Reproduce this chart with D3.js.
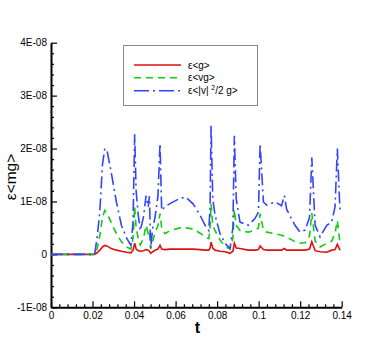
<!DOCTYPE html>
<html>
<head>
<meta charset="utf-8">
<script src="https://cdn.jsdelivr.net/npm/d3@7"></script>
<style>
    body { margin: 0; background: #fff; }
    svg { display: block; font-family: Arial, "Liberation Sans", Helvetica, sans-serif; }
</style>
</head>
<body>
<div id="chart"></div>
<script>
// Time samples, shared by all three series.
var times = [0, 0.021, 0.0222, 0.0235, 0.0248, 0.0259, 0.0270, 0.0290, 0.0315, 0.0339,
    0.0365, 0.0385, 0.0395, 0.0403, 0.0410, 0.0420, 0.0430, 0.0445, 0.0458, 0.0468,
    0.0474, 0.0480, 0.0490, 0.0501, 0.0515, 0.0525, 0.0533, 0.0549, 0.0573, 0.0621,
    0.0650, 0.0685, 0.0718, 0.0742, 0.0760, 0.0766, 0.0771, 0.0779, 0.0790, 0.0814,
    0.0838, 0.0862, 0.0876, 0.0883, 0.0892, 0.0910, 0.0950, 0.0983, 0.0999, 0.1007,
    0.1023, 0.1039, 0.1079, 0.1110, 0.1124, 0.1135, 0.1175, 0.1199, 0.1224, 0.1245,
    0.1256, 0.1272, 0.1296, 0.1328, 0.1352, 0.1368, 0.1379, 0.1392];

// Values in units of 1E-08.
var epsG = [0, 0, 0.03, 0.08, 0.14, 0.17, 0.16, 0.11, 0.08, 0.06,
    0.04, 0.03, 0.08, 0.21, 0.10, 0.07, 0.06, 0.07, 0.09, 0.08,
    0.06, 0.02, 0.05, 0.08, 0.10, 0.17, 0.10, 0.09, 0.10, 0.10,
    0.10, 0.10, 0.09, 0.08, 0.08, 0.12, 0.23, 0.12, 0.08, 0.06,
    0.05, 0.02, 0.06, 0.21, 0.12, 0.11, 0.08, 0.08, 0.09, 0.16,
    0.09, 0.08, 0.08, 0.08, 0.11, 0.08, 0.08, 0.08, 0.08, 0.10,
    0.24, 0.07, 0.05, 0.04, 0.08, 0.09, 0.19, 0.08];

var epsVG = [0, 0, 0.10, 0.35, 0.70, 0.83, 0.78, 0.60, 0.39, 0.24,
    0.14, 0.10, 0.30, 0.90, 0.50, 0.30, 0.18, 0.30, 0.55, 0.40,
    0.45, 0.10, 0.25, 0.40, 0.55, 0.77, 0.50, 0.39, 0.45, 0.50,
    0.50, 0.48, 0.40, 0.33, 0.30, 0.50, 0.95, 0.55, 0.45, 0.27,
    0.15, 0.10, 0.30, 0.85, 0.55, 0.45, 0.42, 0.46, 0.50, 0.77,
    0.46, 0.42, 0.39, 0.36, 0.34, 0.33, 0.24, 0.21, 0.22, 0.35,
    0.78, 0.25, 0.14, 0.21, 0.25, 0.40, 0.64, 0.20];

var epsV2G = [0, 0, 0.31, 0.80, 1.70, 2.00, 1.96, 1.55, 0.99, 0.55,
    0.30, 0.17, 0.60, 2.27, 1.20, 0.75, 0.45, 0.70, 1.11, 0.90,
    1.10, 0.12, 0.50, 0.70, 1.10, 2.09, 0.83, 0.90, 0.96, 1.06,
    1.08, 0.95, 0.74, 0.55, 0.45, 0.90, 2.43, 1.06, 0.74, 0.39,
    0.21, 0.11, 0.50, 2.24, 1.05, 0.61, 0.55, 0.68, 0.80, 2.09,
    0.99, 0.93, 0.99, 0.92, 1.11, 0.85, 0.55, 0.42, 0.46, 0.70,
    1.83, 0.55, 0.33, 0.55, 0.61, 0.90, 2.00, 0.80];

var yTicks = [-1, 0, 1, 2, 3, 4];
var xTicks = [0, 0.02, 0.04, 0.06, 0.08, 0.1, 0.12, 0.14];

var width = 389, height = 346;

var svg = d3.select('#chart').append('svg')
    .attr('width', width)
    .attr('height', height);

// Scales.
var x = d3.scaleLinear().domain([0, 0.14]).range([51, 341.7]);
var y = d3.scaleLinear().domain([-1, 4]).range([307.3, 42.7]);

function yLabel(d) {
    if (d === 0) { return '0'; }
    return d + 'E-08';
}

// Minor ticks (5 subdivisions per major interval).
var xMinor = d3.range(0, 0.1401, 0.004).filter(function (d) {
    return Math.abs(d / 0.02 - Math.round(d / 0.02)) > 1e-6;
});
var yMinor = d3.range(-1, 4.001, 0.2).filter(function (d) {
    return Math.abs(d - Math.round(d)) > 1e-6;
});

// X axis.
var gx = svg.append('g').attr('transform', 'translate(0,' + y(-1) + ')');
gx.call(d3.axisBottom(x).tickValues(xTicks).tickSizeInner(-6).tickSizeOuter(0)
    .tickPadding(5).tickFormat(function (d) { return d === 0 ? '0' : d3.format('')(d); }));
gx.append('g').call(d3.axisBottom(x).tickValues(xMinor).tickSizeInner(-3).tickSizeOuter(0)
    .tickFormat(''))
    .select('.domain').remove();

// Y axis.
var gy = svg.append('g').attr('transform', 'translate(' + x(0) + ',0)');
gy.call(d3.axisLeft(y).tickValues(yTicks).tickSizeInner(-6).tickSizeOuter(0)
    .tickPadding(5).tickFormat(yLabel));
gy.append('g').call(d3.axisLeft(y).tickValues(yMinor).tickSizeInner(-3).tickSizeOuter(0)
    .tickFormat(''))
    .select('.domain').remove();

// Axis styles.
svg.selectAll('.domain').attr('stroke', '#000').attr('stroke-width', 2);
svg.selectAll('.tick line').attr('stroke', '#000').attr('stroke-width', 1.2);
svg.selectAll('.tick text').attr('fill', '#000').style('font-size', '10px');
gy.selectAll('.tick text').attr('x', -4);
gx.selectAll('.tick text').attr('y', 5);

// Axis titles.
svg.append('text')
    .attr('x', x(0.07) + 1)
    .attr('y', 333)
    .attr('text-anchor', 'middle')
    .style('font-size', '16px')
    .style('font-weight', 'bold')
    .text('t');

svg.append('text')
    .attr('transform', 'translate(16,177) rotate(-90)')
    .attr('text-anchor', 'middle')
    .style('font-size', '15.5px')
    .text('ε<mg>');

// Series.
var series = [
    {name: 'g', values: epsG, color: '#dd1111', dash: null},
    {name: 'vg', values: epsVG, color: '#11cc11', dash: '7,5'},
    {name: 'v2g', values: epsV2G, color: '#3344ff', dash: '12,4,2,4'}
];

var line = d3.line()
    .x(function (d) { return x(d[0]); })
    .y(function (d) { return y(d[1]); });

series.forEach(function (s) {
    var pts = times.map(function (t, i) { return [t, s.values[i]]; });
    svg.append('path')
        .datum(pts)
        .attr('fill', 'none')
        .attr('stroke', s.color)
        .attr('stroke-width', 1.6)
        .attr('stroke-dasharray', s.dash)
        .attr('d', line);
});

// Legend.
var lg = svg.append('g');
lg.append('rect')
    .attr('x', 123.5).attr('y', 45.5)
    .attr('width', 134).attr('height', 60)
    .attr('fill', '#fff')
    .attr('stroke', '#888')
    .attr('stroke-width', 1);

var rows = [65, 77.7, 90.7];
series.forEach(function (s, i) {
    lg.append('line')
        .attr('x1', 134).attr('x2', 181)
        .attr('y1', rows[i]).attr('y2', rows[i])
        .attr('stroke', s.color)
        .attr('stroke-width', 1.6)
        .attr('stroke-dasharray', s.dash === '12,4,2,4' ? '15,4,2,4' : s.dash);
});

var lt = lg.append('g').style('font-size', '10px').attr('fill', '#000');
lt.append('text').attr('x', 188).attr('y', rows[0] + 3.5).text('ε<g>');
lt.append('text').attr('x', 188).attr('y', rows[1] + 3.5).text('ε<vg>');
var t3 = lt.append('text').attr('x', 188).attr('y', rows[2] + 3.5);
t3.append('tspan').text('ε<|v| ');
t3.append('tspan').attr('dy', -4).style('font-size', '7px').text('2');
t3.append('tspan').attr('dy', 4).text('/2 g>');
</script>
</body>
</html>
